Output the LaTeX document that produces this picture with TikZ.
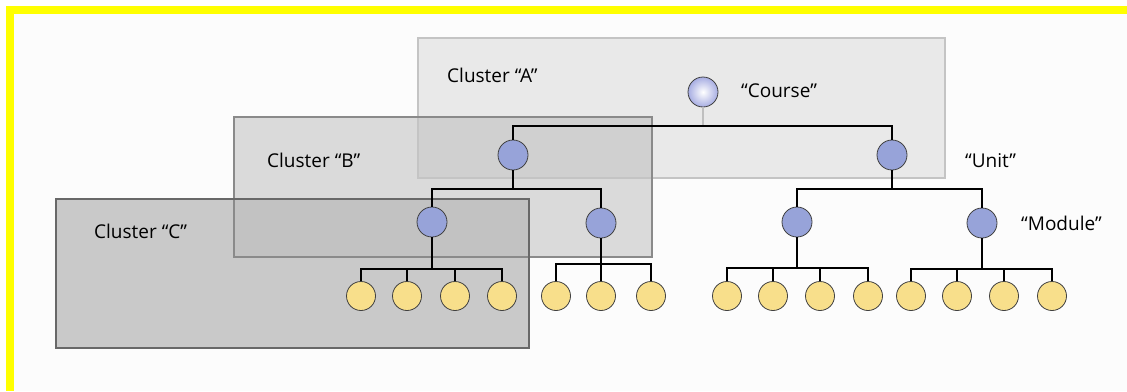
\documentclass[tikz,border=0pt]{standalone}
\usepackage{fontspec}
\setmainfont{Open Sans}
\begin{document}
\begin{tikzpicture}[x=1pt,y=-1pt,
  lbl/.style={anchor=west,inner sep=0pt,font=\fontsize{19}{22}\selectfont},
  tree/.style={line width=1.6pt,black},
  stem/.style={line width=1.4pt,color=black!25},
  unitnode/.style={circle,draw=black!75,line width=0.8pt,fill=blueN,minimum size=30pt,inner sep=0pt},
  leafnode/.style={circle,draw=black!75,line width=0.8pt,fill=leafY,minimum size=29pt,inner sep=0pt},
  coursenode/.style={circle,draw=black!75,line width=0.8pt,inner color=white,outer color=courseB,minimum size=30pt,inner sep=0pt},
  cluster/.style={line width=1.3pt}
]
\definecolor{blueN}{HTML}{97A3D9}
\definecolor{leafY}{HTML}{F8DF8B}
\definecolor{courseB}{HTML}{A7ADE2}
\definecolor{yel}{HTML}{FFFF00}
\definecolor{bgc}{HTML}{FCFCFC}
\definecolor{fillA}{HTML}{E9E9E9}
\definecolor{fillB}{HTML}{B4B4B4}
\definecolor{fillC}{HTML}{BCBCBC}
\definecolor{lineA}{HTML}{C4C4C4}
\definecolor{lineB}{HTML}{8A8A8A}
\definecolor{lineC}{HTML}{686868}
\useasboundingbox (0,0) rectangle (1127,391);
\fill[white] (0,0) rectangle (1127,391);
\fill[bgc] (14,14) rectangle (1127,391);
\fill[yel] (6,6) rectangle (1127,14);
\fill[yel] (6,6) rectangle (14,391);
% cluster fills
\fill[fillA] (418,38) rectangle (945,178);
\fill[fillB,fill opacity=0.47] (234,117) rectangle (652,257);
\fill[fillC,fill opacity=0.79] (56,199) rectangle (529,348);
% cluster borders
\draw[cluster,lineA] (418,38) rectangle (945,178);
\draw[cluster,lineB] (234,117) rectangle (652,257);
\draw[cluster,lineC] (56,199) rectangle (529,348);
% labels
\node[lbl] (labA) at (447,75) {Cluster “A”};
\node[lbl] (labB) at (267,160) {Cluster “B”};
\node[lbl] (labC) at (94,231) {Cluster “C”};
\node[lbl] (labCourse) at (741,91) {“Course”};
\node[lbl] (labUnit) at (965,161) {“Unit”};
\node[lbl] (labModule) at (1021,223) {“Module”};
% nodes
\node[coursenode] (course) at (703,92) {};
\node[unitnode] (u1) at (513,155) {};
\node[unitnode] (u2) at (892,155) {};
\node[unitnode] (m1) at (432,222) {};
\node[unitnode] (m2) at (601,223) {};
\node[unitnode] (m3) at (797,222) {};
\node[unitnode] (m4) at (982,223) {};
\foreach \n/\x in {l1/361,l2/407,l3/455,l4/502,l5/556,l6/601,l7/651,
                   l8/727,l9/773,l10/820,l11/868,l12/911,l13/957,l14/1004,l15/1052}
  \node[leafnode] (\n) at (\x,296) {};
% bus coordinates
\coordinate (busA) at (703,126);
\coordinate (busB) at (513,189);
\coordinate (busC) at (892,189);
\coordinate (b1) at (432,269);
\coordinate (b2) at (601,264);
\coordinate (b3) at (797,268);
\coordinate (b4) at (982,269);
% connectors
\draw[stem] (course.south) -- (busA);
\draw[tree] (u1.north) |- (busA) -| (u2.north);
\draw[tree] (u1.south) -- (busB);
\draw[tree] (m1.north) |- (busB) -| (m2.north);
\draw[tree] (u2.south) -- (busC);
\draw[tree] (m3.north) |- (busC) -| (m4.north);
\draw[tree] (m1.south) -- (b1);
\draw[tree] (l1.north) |- (b1) -| (l4.north);
\draw[tree] (l2.north) -- (l2.north |- b1);
\draw[tree] (l3.north) -- (l3.north |- b1);
\draw[tree] (m2.south) -- (l6.north);
\draw[tree] (l5.north) |- (b2) -| (l7.north);
\draw[tree] (m3.south) -- (b3);
\draw[tree] (l8.north) |- (b3) -| (l11.north);
\draw[tree] (l9.north) -- (l9.north |- b3);
\draw[tree] (l10.north) -- (l10.north |- b3);
\draw[tree] (m4.south) -- (b4);
\draw[tree] (l12.north) |- (b4) -| (l15.north);
\draw[tree] (l13.north) -- (l13.north |- b4);
\draw[tree] (l14.north) -- (l14.north |- b4);
\end{tikzpicture}
\end{document}
